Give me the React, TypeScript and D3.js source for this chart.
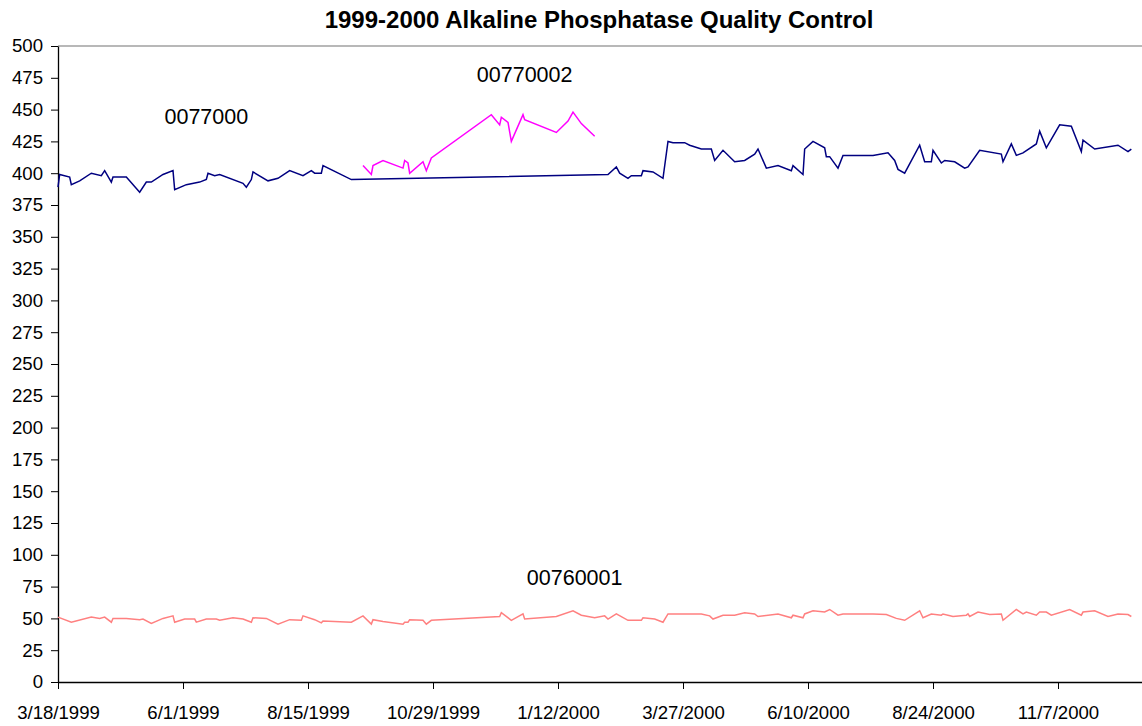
import React, { useEffect, useRef } from "react";
import * as d3 from "d3";

const title = "1999-2000 Alkaline Phosphatase Quality Control";

const xTickLabels = ["3/18/1999", "6/1/1999", "8/15/1999", "10/29/1999", "1/12/2000", "3/27/2000", "6/10/2000", "8/24/2000", "11/7/2000"];
const yTickValues = d3.range(0, 501, 25);

// lot 0077000 (navy)
const lot0077000: [string, number][] = [
  ["3/18/1999", 389], ["3/19/1999", 399], ["3/25/1999", 397], ["3/26/1999", 391], ["3/31/1999", 394],
  ["4/7/1999", 400], ["4/13/1999", 398], ["4/15/1999", 402], ["4/19/1999", 393], ["4/20/1999", 397],
  ["4/28/1999", 397], ["5/6/1999", 385], ["5/10/1999", 393], ["5/13/1999", 393], ["5/20/1999", 399],
  ["5/26/1999", 402], ["5/27/1999", 387], ["6/3/1999", 391], ["6/11/1999", 393], ["6/15/1999", 395],
  ["6/16/1999", 400], ["6/20/1999", 398], ["6/23/1999", 399], ["7/7/1999", 392], ["7/9/1999", 389],
  ["7/12/1999", 395], ["7/13/1999", 401], ["7/22/1999", 394], ["7/28/1999", 396], ["8/4/1999", 402],
  ["8/12/1999", 398], ["8/17/1999", 402], ["8/19/1999", 400], ["8/23/1999", 400], ["8/24/1999", 406],
  ["9/10/1999", 395], ["2/11/2000", 399], ["2/16/2000", 405], ["2/18/2000", 400], ["2/23/2000", 396],
  ["2/25/2000", 398], ["3/2/2000", 398], ["3/3/2000", 402], ["3/9/2000", 401], ["3/15/2000", 396],
  ["3/18/2000", 425], ["3/21/2000", 424], ["3/28/2000", 424], ["3/31/2000", 422], ["4/7/2000", 419],
  ["4/13/2000", 419], ["4/15/2000", 410], ["4/20/2000", 418], ["4/27/2000", 409], ["5/3/2000", 410],
  ["5/9/2000", 415], ["5/11/2000", 419], ["5/16/2000", 404], ["5/23/2000", 406], ["5/31/2000", 402],
  ["6/1/2000", 406], ["6/7/2000", 399], ["6/8/2000", 419], ["6/13/2000", 425], ["6/20/2000", 420],
  ["6/21/2000", 413], ["6/23/2000", 413], ["6/28/2000", 404], ["7/1/2000", 414], ["7/19/2000", 414],
  ["7/28/2000", 416], ["8/1/2000", 410], ["8/3/2000", 403], ["8/7/2000", 400], ["8/16/2000", 422],
  ["8/19/2000", 409], ["8/23/2000", 409], ["8/24/2000", 418], ["8/29/2000", 408], ["8/31/2000", 410],
  ["9/6/2000", 409], ["9/12/2000", 404], ["9/14/2000", 405], ["9/21/2000", 418], ["10/4/2000", 415],
  ["10/5/2000", 409], ["10/10/2000", 423], ["10/13/2000", 414], ["10/17/2000", 416], ["10/25/2000", 423],
  ["10/27/2000", 433], ["10/31/2000", 420], ["11/8/2000", 438], ["11/15/2000", 437], ["11/21/2000", 417],
  ["11/22/2000", 426], ["11/29/2000", 419], ["12/13/2000", 422], ["12/19/2000", 417], ["12/21/2000", 419],
];

// lot 00770002 (magenta)
const lot00770002: [string, number][] = [
  ["9/17/1999", 406], ["9/22/1999", 399], ["9/23/1999", 406], ["9/29/1999", 410], ["10/11/1999", 404],
  ["10/12/1999", 410], ["10/14/1999", 408], ["10/15/1999", 400], ["10/23/1999", 409], ["10/25/1999", 402],
  ["10/28/1999", 412], ["12/3/1999", 446], ["12/8/1999", 438], ["12/9/1999", 444], ["12/13/1999", 440],
  ["12/15/1999", 425], ["12/22/1999", 446], ["12/23/1999", 442], ["1/11/2000", 432], ["1/18/2000", 441],
  ["1/21/2000", 448], ["1/26/2000", 439], ["2/3/2000", 429],
];

// lot 00760001 (salmon)
const lot00760001: [string, number][] = [
  ["3/18/1999", 51], ["3/26/1999", 47], ["4/7/1999", 51], ["4/12/1999", 50], ["4/15/1999", 51],
  ["4/19/1999", 47], ["4/20/1999", 50], ["4/28/1999", 50], ["5/6/1999", 49], ["5/8/1999", 49.5],
  ["5/13/1999", 46], ["5/20/1999", 50], ["5/26/1999", 52], ["5/27/1999", 47], ["6/2/1999", 49.5],
  ["6/8/1999", 49.5], ["6/9/1999", 47], ["6/15/1999", 49.5], ["6/21/1999", 49.5], ["6/23/1999", 48.5],
  ["7/1/1999", 50.5], ["7/7/1999", 49.5], ["7/12/1999", 47], ["7/13/1999", 50.5], ["7/21/1999", 50],
  ["7/28/1999", 45.5], ["8/4/1999", 49], ["8/11/1999", 48.5], ["8/12/1999", 52], ["8/19/1999", 49],
  ["8/23/1999", 46.5], ["8/24/1999", 48], ["9/10/1999", 47], ["9/17/1999", 52], ["9/22/1999", 45.5],
  ["9/23/1999", 49], ["9/29/1999", 47.5], ["10/11/1999", 45.5], ["10/12/1999", 47], ["10/14/1999", 47],
  ["10/15/1999", 49], ["10/23/1999", 48.5], ["10/25/1999", 45.5], ["10/28/1999", 48.5], ["12/8/1999", 51.5],
  ["12/9/1999", 54.5], ["12/15/1999", 48.5], ["12/22/1999", 53.5], ["12/23/1999", 49.5], ["1/11/2000", 51.5],
  ["1/21/2000", 56], ["1/26/2000", 52.5], ["2/3/2000", 50.5], ["2/9/2000", 52], ["2/11/2000", 49.5],
  ["2/16/2000", 53.5], ["2/23/2000", 48.5], ["3/2/2000", 48.5], ["3/3/2000", 50.5], ["3/10/2000", 49.5],
  ["3/15/2000", 47], ["3/18/2000", 53.5], ["4/7/2000", 53.5], ["4/12/2000", 52], ["4/14/2000", 49.5],
  ["4/20/2000", 52.5], ["4/27/2000", 52.5], ["5/3/2000", 54.5], ["5/9/2000", 53.5], ["5/11/2000", 51.5],
  ["5/23/2000", 53.5], ["5/31/2000", 50.5], ["6/1/2000", 52.5], ["6/7/2000", 50.5], ["6/8/2000", 53.5],
  ["6/13/2000", 56], ["6/20/2000", 55], ["6/23/2000", 57], ["6/28/2000", 52.5], ["7/1/2000", 53.5],
  ["7/19/2000", 53.5], ["7/27/2000", 53], ["8/2/2000", 50], ["8/7/2000", 48.5], ["8/16/2000", 56],
  ["8/18/2000", 50.5], ["8/23/2000", 53.5], ["8/29/2000", 52.5], ["8/30/2000", 53.5], ["9/5/2000", 51.5],
  ["9/13/2000", 52.5], ["9/14/2000", 53.5], ["9/15/2000", 51.5], ["9/20/2000", 55], ["9/27/2000", 53],
  ["10/4/2000", 53.5], ["10/5/2000", 48.5], ["10/13/2000", 57], ["10/17/2000", 53.5], ["10/19/2000", 55],
  ["10/25/2000", 52.5], ["10/27/2000", 55], ["10/31/2000", 55], ["11/3/2000", 52.5], ["11/14/2000", 57],
  ["11/21/2000", 52.5], ["11/22/2000", 55], ["11/29/2000", 56], ["12/7/2000", 51.5], ["12/13/2000", 53.5],
  ["12/19/2000", 53], ["12/21/2000", 51.5],
];

const seriesNames = ["0077000", "00770002", "00760001"];
const seriesColors = ["#000080", "#ff00ff", "#ff8080"];
// where each lot's name sits (date, value of baseline)
const labelAnchors: [string, number][] = [["6/15/1999", 439], ["12/23/1999", 472], ["1/22/2000", 76]];

const W = 1142;
const H = 726;
const font = "'Liberation Sans', Arial, sans-serif";

export default function App() {
  const ref = useRef<SVGSVGElement>(null);

  useEffect(() => {
    const svg = d3.select(ref.current);
    svg.selectAll("*").remove();
    const parse = d3.utcParse("%m/%d/%Y");
    const start = parse(xTickLabels[0]) as Date;

    const x = d3.scaleUtc().domain([start, d3.utcDay.offset(start, 651)]).range([58, 1143]);
    const y = d3.scaleLinear().domain([0, 500]).range([682, 46]);

    svg.append("text")
      .attr("x", 599).attr("y", 28)
      .attr("text-anchor", "middle")
      .attr("font-family", font).attr("font-weight", "bold").attr("font-size", 24)
      .text(title);

    // plot area top border
    svg.append("line")
      .attr("x1", x.range()[0]).attr("x2", W)
      .attr("y1", y(500)).attr("y2", y(500))
      .attr("stroke", "#a0a0a0").attr("stroke-width", 1.6);

    const yAxis = d3.axisLeft(y).tickValues(yTickValues).tickSize(7).tickSizeOuter(0).tickPadding(8);
    const yg = svg.append("g").attr("transform", `translate(${x.range()[0]},0)`).call(yAxis);
    yg.select(".domain").attr("stroke", "#000").attr("stroke-width", 1.3);
    yg.selectAll(".tick line").attr("stroke", "#000");
    yg.selectAll(".tick text").attr("font-family", font).attr("font-size", 18.6).attr("fill", "#000");

    const xTicks = xTickLabels.map(s => parse(s) as Date);
    const xAxis = d3.axisBottom(x).tickValues(xTicks).tickSize(7).tickSizeOuter(0).tickPadding(17)
      .tickFormat((_, i) => xTickLabels[i]);
    const xg = svg.append("g").attr("transform", `translate(0,${y(0)})`).call(xAxis);
    xg.select(".domain").attr("stroke", "#000").attr("stroke-width", 1.3);
    xg.selectAll(".tick line").attr("stroke", "#000");
    xg.selectAll(".tick text").attr("font-family", font).attr("font-size", 18.6).attr("fill", "#000");

    const line = d3.line<[string, number]>()
      .x(d => x(parse(d[0]) as Date))
      .y(d => y(d[1]));

    const series = [lot00760001, lot0077000, lot00770002];
    const colors = [seriesColors[2], seriesColors[0], seriesColors[1]];
    series.forEach((s, i) => {
      svg.append("path")
        .attr("d", line(s))
        .attr("fill", "none")
        .attr("stroke", colors[i])
        .attr("stroke-width", 1.5)
        .attr("stroke-linejoin", "miter");
    });

    svg.selectAll(".lotname")
      .data(seriesNames)
      .join("text")
      .attr("class", "lotname")
      .attr("x", (d, i) => x(parse(labelAnchors[i][0]) as Date))
      .attr("y", (d, i) => y(labelAnchors[i][1]))
      .attr("text-anchor", "middle")
      .attr("font-family", font).attr("font-size", 21.5)
      .text(d => d);
  }, []);

  return (
    <div style={{ position: "absolute", left: 0, top: 0 }}>
      <svg ref={ref} width={W} height={H} style={{ display: "block", background: "#fff" }} />
    </div>
  );
}
